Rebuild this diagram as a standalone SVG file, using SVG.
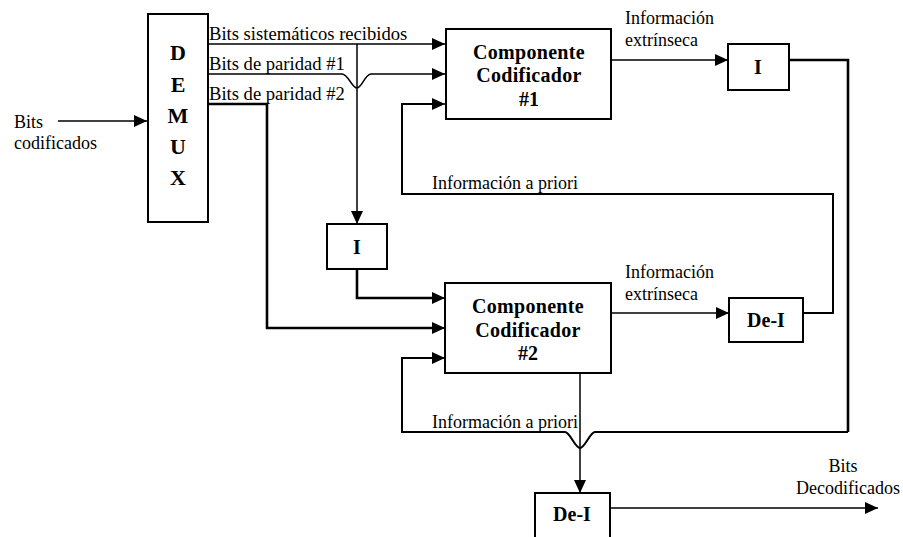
<svg xmlns="http://www.w3.org/2000/svg" width="903" height="537" viewBox="0 0 903 537">
<style>
.box{fill:#fff;stroke:#000;stroke-width:2}
.lbl{font-size:18px;fill:#000}
.bt{font-size:20px;font-weight:bold;fill:#000;text-anchor:middle}
.ln{fill:none;stroke:#000;stroke-width:1.5}
.th{fill:none;stroke:#000;stroke-width:2.6}
.md{fill:none;stroke:#000;stroke-width:2}
</style>
<defs>
<marker id="ar" markerUnits="userSpaceOnUse" markerWidth="14" markerHeight="12" refX="13" refY="6" orient="auto">
<path d="M0,0 L13,6 L0,12 Z" fill="#000"/>
</marker>
</defs>
<rect width="903" height="537" fill="#fff"/>
<g id="connectors">
<path class="ln" d="M58,121 H147" marker-end="url(#ar)"/>
<path class="ln" d="M208,44 H445" marker-end="url(#ar)"/>
<path class="ln" d="M357,44 V224" marker-end="url(#ar)"/>
<path class="ln" d="M208,74 H342 C348,74 352,88 357,88 C362,88 365,74 371,74 H445" marker-end="url(#ar)"/>
<path class="th" d="M208,104 H267 V328 H432"/>
<path class="ln" d="M430,328 H445" marker-end="url(#ar)"/>
<path class="th" d="M357,269 V298 H432"/>
<path class="ln" d="M430,298 H445" marker-end="url(#ar)"/>
<path class="ln" d="M611,60 H728" marker-end="url(#ar)"/>
<path class="th" d="M789,60 H848 V432"/>
<path class="md" d="M848,432 H595 C590,432 585,448 580,448 C575,448 570,432 565,432 H402 V358 H432"/>
<path class="ln" d="M430,358 H445" marker-end="url(#ar)"/>
<path class="md" d="M803,313 H833 V194 H402 V104 H432"/>
<path class="ln" d="M430,104 H445" marker-end="url(#ar)"/>
<path class="ln" d="M611,313 H729" marker-end="url(#ar)"/>
<path class="ln" d="M580,373 V493" marker-end="url(#ar)"/>
<path class="ln" d="M610,508 H878" marker-end="url(#ar)"/>
</g>
<g id="labels" font-family="Liberation Serif, serif">
<text class="lbl" x="14" y="128">Bits</text>
<text class="lbl" x="14" y="149">codificados</text>
<text class="lbl" x="209" y="40" style="font-size:18.6px">Bits sistemáticos recibidos</text>
<text class="lbl" x="209" y="70" style="font-size:18.6px">Bits de paridad #1</text>
<text class="lbl" x="209" y="100" style="font-size:18.6px">Bits de paridad #2</text>
<text class="lbl" x="625" y="24">Información</text>
<text class="lbl" x="625" y="46">extrínseca</text>
<text class="lbl" x="432" y="189">Información a priori</text>
<text class="lbl" x="625" y="278">Información</text>
<text class="lbl" x="625" y="300">extrínseca</text>
<text class="lbl" x="432" y="428">Información a priori</text>
<text class="lbl" x="843" y="472" text-anchor="middle">Bits</text>
<text class="lbl" x="848" y="494" text-anchor="middle">Decodificados</text>
</g>
<g id="demux" font-family="Liberation Serif, serif">
<rect class="box" x="148" y="14" width="60" height="208"/>
<text class="bt" style="font-size:22px" x="178" y="60">D</text>
<text class="bt" style="font-size:22px" x="178" y="92">E</text>
<text class="bt" style="font-size:22px" x="178" y="123">M</text>
<text class="bt" style="font-size:22px" x="178" y="154">U</text>
<text class="bt" style="font-size:22px" x="178" y="185">X</text>
</g>
<g id="comp1" font-family="Liberation Serif, serif">
<rect class="box" x="446" y="29" width="165" height="90"/>
<text class="bt" style="letter-spacing:0.3px" x="529" y="59">Componente</text>
<text class="bt" style="letter-spacing:0.3px" x="529" y="82">Codificador</text>
<text class="bt" x="529" y="106">#1</text>
</g>
<g id="int1" font-family="Liberation Serif, serif">
<rect class="box" x="728" y="44" width="61" height="46"/>
<text class="bt" x="758" y="74">I</text>
</g>
<g id="int2" font-family="Liberation Serif, serif">
<rect class="box" x="327" y="224" width="60" height="45"/>
<text class="bt" x="357" y="254">I</text>
</g>
<g id="comp2" font-family="Liberation Serif, serif">
<rect class="box" x="445" y="283" width="166" height="90"/>
<text class="bt" style="letter-spacing:0.3px" x="528" y="313">Componente</text>
<text class="bt" style="letter-spacing:0.3px" x="528" y="337">Codificador</text>
<text class="bt" x="528" y="360">#2</text>
</g>
<g id="deint1" font-family="Liberation Serif, serif">
<rect class="box" x="729" y="298" width="74" height="44"/>
<text class="bt" x="766" y="327">De-I</text>
</g>
<g id="deint2" font-family="Liberation Serif, serif">
<rect class="box" x="535" y="493" width="75" height="50"/>
<text class="bt" x="572" y="521">De-I</text>
</g>
</svg>
